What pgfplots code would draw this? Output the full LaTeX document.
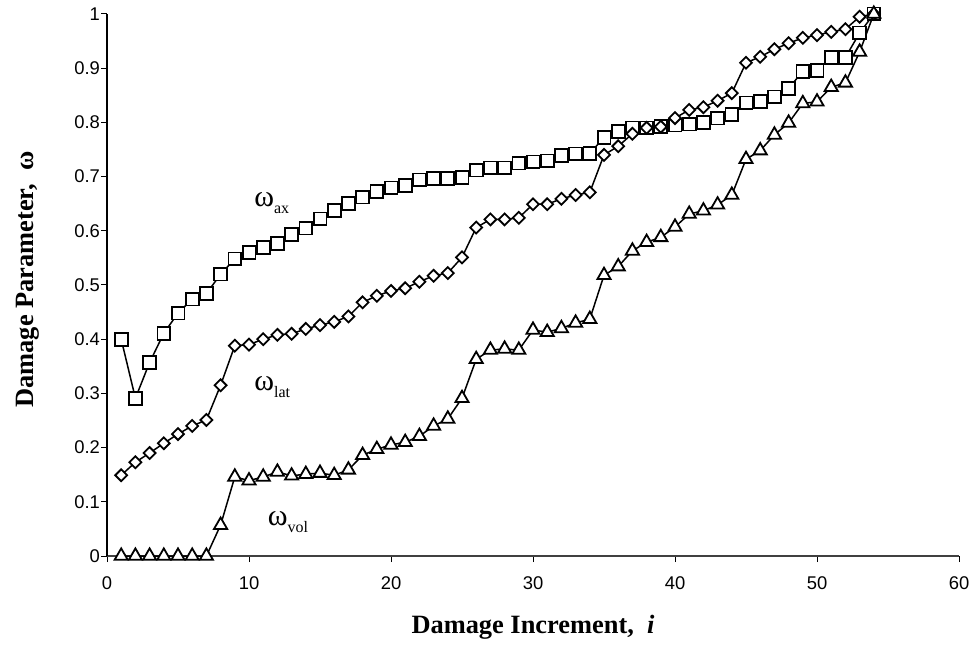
\documentclass[border=0pt]{standalone}
\usepackage{fontspec}
\setmainfont{Liberation Serif}
\setsansfont{Liberation Sans}
\usepackage{pgfplots}
\usepackage{pgfplotstable}
\pgfplotsset{compat=1.18}
\usetikzlibrary{calc}

% damage parameters per increment: axial, lateral, volumetric
\pgfplotstableread{
i  ax    lat   vol
1  0.400 0.149 0
2  0.291 0.173 0
3  0.357 0.190 0
4  0.411 0.208 0
5  0.448 0.225 0
6  0.474 0.240 0
7  0.484 0.251 0
8  0.520 0.315 0.057
9  0.548 0.388 0.146
10 0.560 0.390 0.139
11 0.569 0.400 0.146
12 0.577 0.408 0.155
13 0.593 0.410 0.148
14 0.605 0.419 0.151
15 0.622 0.426 0.153
16 0.638 0.432 0.149
17 0.650 0.442 0.159
18 0.662 0.468 0.186
19 0.673 0.480 0.197
20 0.679 0.489 0.205
21 0.684 0.494 0.210
22 0.694 0.506 0.221
23 0.697 0.517 0.240
24 0.697 0.522 0.253
25 0.698 0.551 0.291
26 0.712 0.606 0.363
27 0.716 0.621 0.380
28 0.716 0.621 0.382
29 0.725 0.624 0.380
30 0.727 0.649 0.417
31 0.729 0.649 0.413
32 0.739 0.659 0.420
33 0.742 0.666 0.430
34 0.743 0.671 0.437
35 0.772 0.740 0.518
36 0.783 0.756 0.534
37 0.790 0.779 0.563
38 0.790 0.790 0.579
39 0.792 0.792 0.588
40 0.795 0.808 0.607
41 0.797 0.823 0.631
42 0.800 0.828 0.637
43 0.808 0.840 0.648
44 0.815 0.854 0.666
45 0.836 0.910 0.732
46 0.838 0.921 0.748
47 0.847 0.935 0.777
48 0.863 0.946 0.799
49 0.894 0.956 0.835
50 0.896 0.961 0.838
51 0.920 0.967 0.865
52 0.920 0.972 0.873
53 0.965 0.995 0.930
54 1.000 1.000 1.000
}\dmg

\begin{document}
\begin{tikzpicture}
\begin{axis}[
    name=ax,
    scale only axis,
    width=426pt,
    height=271pt,
    xmin=0, xmax=60,
    ymin=0, ymax=1,
    clip=false,
    axis lines=left,
    axis line style={-, line width=0.6pt},
    x axis line style={black!75},
    tick align=outside,
    major tick length=3pt,
    tick style={black, line width=0.5pt},
    xtick={0,10,20,30,40,50,60},
    ytick={0,0.1,0.2,0.3,0.4,0.5,0.6,0.7,0.8,0.9,1},
    /pgf/number format/fixed,
    /pgf/number format/assume math mode=true,
    ticklabel style={font=\sffamily\fontsize{9.2}{10}\selectfont},
    xticklabel style={yshift=-4pt},
    yticklabel style={xshift=3pt},
    xlabel={Damage Increment,\ \ \textit{i}},
    ylabel={Damage Parameter,\ \ ω},
    label style={font=\bfseries\fontsize{13.2}{15}\selectfont},
    xlabel style={at={(axis description cs:0.5,-0.131)}, anchor=center},
    ylabel style={at={(axis description cs:-0.093,0.51)}, anchor=center},
    every axis plot/.append style={black, line width=0.75pt},
]
\addplot[mark=square*, mark size=3.2pt, mark options={fill=white, line width=0.9pt}]
    table[x=i, y=ax] {\dmg};
\addplot[mark=square*, mark size=2.1pt, mark options={fill=white, rotate=45, line width=0.9pt}]
    table[x=i, y=lat] {\dmg};
\addplot[mark=triangle*, mark size=3.8pt, mark options={fill=white, line width=0.9pt}]
    table[x=i, y=vol] {\dmg};

\node[anchor=base west, inner sep=0pt, font=\fontsize{15}{17}\selectfont]
    at (axis cs:10.35,0.644) {ω\raisebox{-3.5pt}{\fontsize{8}{9}\selectfont ax}};
\node[anchor=base west, inner sep=0pt, font=\fontsize{15}{17}\selectfont]
    at (axis cs:10.35,0.306) {ω\raisebox{-3.5pt}{\fontsize{8}{9}\selectfont lat}};
\node[anchor=base west, inner sep=0pt, font=\fontsize{15}{17}\selectfont]
    at (axis cs:11.3,0.057) {ω\raisebox{-3.5pt}{\fontsize{8}{9}\selectfont vol}};
\end{axis}
\pgfresetboundingbox
\path ($(ax.south west)+(-53.5pt,-45.5pt)$) rectangle ($(ax.north east)+(5.5pt,7pt)$);
\end{tikzpicture}
\end{document}
